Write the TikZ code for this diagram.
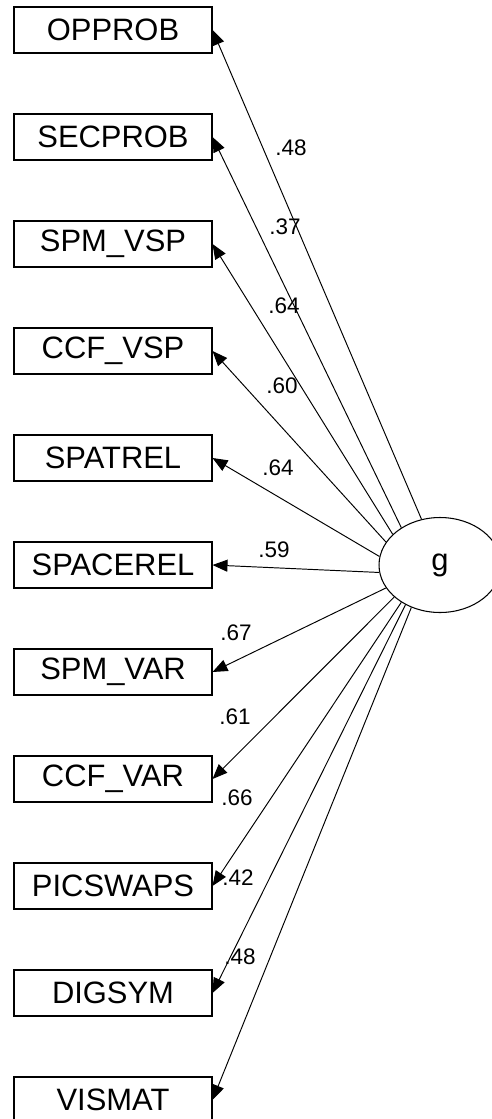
\documentclass[tikz,border=0pt]{standalone}
\usepackage{fontspec}
\setmainfont{Liberation Sans}
\usetikzlibrary{arrows.meta,shapes.geometric}

\begin{document}
\begin{tikzpicture}[x=0.02cm,y=-0.02cm,
    obs/.style={draw,line width=0.6pt,minimum width=3.96cm,minimum height=0.92cm,
      inner sep=0pt,font=\fontsize{17.6}{20}\selectfont},
    lat/.style={draw,ellipse,line width=0.6pt,minimum width=2.44cm,minimum height=1.9cm,
      inner sep=0pt,font=\fontsize{17.6}{20}\selectfont},
    load/.style={line width=0.55pt,-{Triangle[length=0.3cm,width=0.24cm]}},
    coef/.style={inner sep=0pt,font=\fontsize{12.8}{15}\selectfont}]

  \useasboundingbox (0,0) rectangle (492,1119);

  % observed tests
  \node[obs] (opprob)   at (113,30)   {OPPROB};
  \node[obs] (secprob)  at (113,137)  {SECPROB};
  \node[obs] (spmvsp)   at (113,244)  {SPM\_VSP};
  \node[obs] (ccfvsp)   at (113,351)  {CCF\_VSP};
  \node[obs] (spatrel)  at (113,458)  {SPATREL};
  \node[obs] (spacerel) at (113,565)  {SPACEREL};
  \node[obs] (spmvar)   at (113,672)  {SPM\_VAR};
  \node[obs] (ccfvar)   at (113,779)  {CCF\_VAR};
  \node[obs] (picswaps) at (113,886)  {PICSWAPS};
  \node[obs] (digsym)   at (113,993)  {DIGSYM};
  \node[obs] (vismat)   at (113,1100) {VISMAT};

  % general factor
  \node[lat] (g) at (440,565) {g};

  % loadings
  \draw[load] (g.112) -- (opprob.east);
  \draw[load] (g.136) -- (secprob.east);
  \draw[load] (g.147) -- (spmvsp.east);
  \draw[load] (g.157) -- (ccfvsp.east);
  \draw[load] (g.172) -- (spatrel.east);
  \draw[load] (g.187) -- (spacerel.east);
  \draw[load] (g.203) -- (spmvar.east);
  \draw[load] (g.215) -- (ccfvar.east);
  \draw[load] (g.224) -- (picswaps.east);
  \draw[load] (g.229) -- (digsym.east);
  \draw[load] (g.236) -- (vismat.east);

  \node[coef] (c1)  at (291,148) {.48};
  \node[coef] (c2)  at (285,227) {.37};
  \node[coef] (c3)  at (284,306) {.64};
  \node[coef] (c4)  at (282,386) {.60};
  \node[coef] (c5)  at (278,468) {.64};
  \node[coef] (c6)  at (274,550) {.59};
  \node[coef] (c7)  at (236,633) {.67};
  \node[coef] (c8)  at (235,717) {.61};
  \node[coef] (c9)  at (237,798) {.66};
  \node[coef] (c10) at (238,878) {.42};
  \node[coef] (c11) at (240,957) {.48};

\end{tikzpicture}
\end{document}
